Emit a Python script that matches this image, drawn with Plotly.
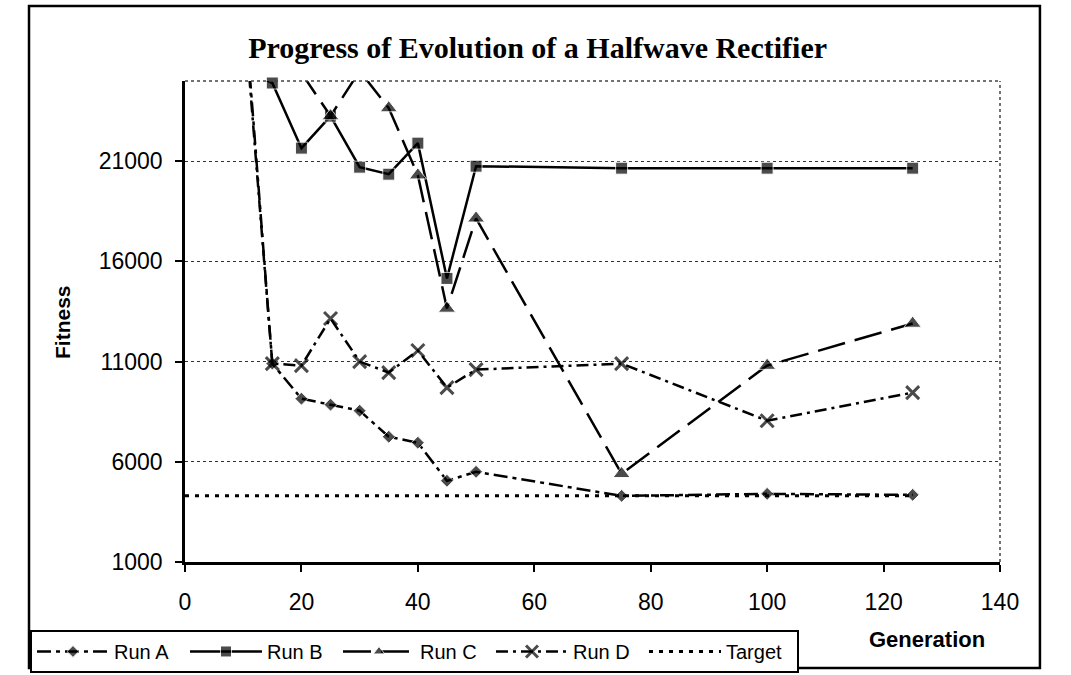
import plotly.graph_objects as go

# ---- data ----
generations = [10, 15, 20, 25, 30, 35, 40, 45, 50, 75, 100, 125]
run_a = [29500, 10900, 9150, 8850, 8550, 7250, 6950, 5050, 5500, 4300, 4400, 4350]
run_b = [25600, 24900, 21650, 23250, 20700, 20350, 21900, 15150, 20750, 20650, 20650, 20650]
run_c = [28000, 26500, 25400, 23250, 25500, 23650, 20300, 13650, 18150, 5400, 10800, 12900]
run_d = [29000, 10900, 10800, 13150, 11000, 10450, 11550, 9700, 10600, 10900, 8050, 9450]
target_gens = [0, 125]
target = [4300, 4300]

y_ticks = [1000, 6000, 11000, 16000, 21000]
x_ticks = [0, 20, 40, 60, 80, 100, 120, 140]
Y_MIN, Y_MAX = 1000, 25000
X_MIN, X_MAX = 0, 140

TICK_FONT = "Liberation Sans, Arial, sans-serif"


def sizes(vals, s):
    return [0 if v > Y_MAX else s for v in vals]


fig = go.Figure()

fig.add_trace(go.Scatter(
    x=generations, y=run_a, name="Run A", mode="lines+markers",
    line=dict(color="black", width=2.5, dash="14px,5px,4px,5px"),
    marker=dict(symbol="diamond", size=sizes(run_a, 10), color="black"),
    cliponaxis=False))
fig.add_trace(go.Scatter(
    x=generations, y=run_b, name="Run B", mode="lines+markers",
    line=dict(color="black", width=2.5),
    marker=dict(symbol="square", size=sizes(run_b, 12), color="black"),
    cliponaxis=False))
fig.add_trace(go.Scatter(
    x=generations, y=run_c, name="Run C", mode="lines+markers",
    line=dict(color="black", width=2.5, dash="28px,10px"),
    marker=dict(symbol="triangle-up", size=sizes(run_c, 15), color="black"),
    cliponaxis=False))
fig.add_trace(go.Scatter(
    x=generations, y=run_d, name="Run D", mode="lines+markers",
    line=dict(color="black", width=2.5, dash="12px,5px,3px,5px"),
    marker=dict(symbol="x-thin", size=sizes(run_d, 13), color="black",
                line=dict(color="black", width=3)),
    cliponaxis=False))
fig.add_trace(go.Scatter(
    x=target_gens, y=target, name="Target", mode="lines",
    line=dict(color="black", width=3, dash="4px,6px")))

# plot-area border (top/right) dotted, outer chart border
fig.add_shape(type="line", xref="x domain", yref="y domain", x0=0, x1=1, y0=1, y1=1,
              line=dict(color="#444", width=1.5, dash="dot"))
fig.add_shape(type="line", xref="x domain", yref="y domain", x0=1, x1=1, y0=0, y1=1,
              line=dict(color="#444", width=1.5, dash="dot"))
fig.add_shape(type="rect", xref="paper", yref="paper",
              x0=-0.1914, x1=1.049, y0=-0.2204, y1=1.156,
              line=dict(color="black", width=2.5), layer="below")

fig.add_annotation(text="<b>Fitness</b>", xref="paper", yref="paper",
                   x=-0.1497, y=0.499, textangle=-90, showarrow=False,
                   xanchor="center", yanchor="middle",
                   font=dict(family=TICK_FONT, size=21, color="black"))
fig.add_annotation(text="<b>Generation</b>", xref="paper", yref="paper",
                   x=0.910, y=-0.162, showarrow=False,
                   xanchor="center", yanchor="middle",
                   font=dict(family=TICK_FONT, size=22, color="black"))

fig.update_layout(
    width=1071, height=675,
    margin=dict(l=185, r=71, t=81, b=113),
    paper_bgcolor="white", plot_bgcolor="white",
    title=dict(text="<b>Progress of Evolution of a Halfwave Rectifier</b>",
               xref="container", yref="container", x=0.502, y=0.930,
               xanchor="center", yanchor="middle",
               font=dict(family="Liberation Serif, Times New Roman, serif", size=30, color="black")),
    xaxis=dict(range=[X_MIN, X_MAX], tickvals=x_ticks, showgrid=False, zeroline=False,
               showline=True, linecolor="black", linewidth=2.5,
               ticks="outside", ticklen=7, tickwidth=2, tickcolor="black",
               ticklabelstandoff=11,
               tickfont=dict(family=TICK_FONT, size=23, color="black")),
    yaxis=dict(range=[Y_MIN, Y_MAX], tickvals=y_ticks, tickformat="d", zeroline=False,
               showgrid=True, gridcolor="#333", gridwidth=1.2, griddash="dot",
               showline=True, linecolor="black", linewidth=2.5,
               ticks="outside", ticklen=7, tickwidth=2, tickcolor="black",
               ticklabelstandoff=8,
               tickfont=dict(family=TICK_FONT, size=23, color="black")),
    legend=dict(orientation="h", xref="container", yref="container",
                x=0.028, y=0.0667, xanchor="left", yanchor="top",
                bgcolor="white", bordercolor="black", borderwidth=2,
                entrywidth=66, itemwidth=72, tracegroupgap=0,
                font=dict(family=TICK_FONT, size=20, color="black")),
    showlegend=True,
)

fig.write_html("out.html")
